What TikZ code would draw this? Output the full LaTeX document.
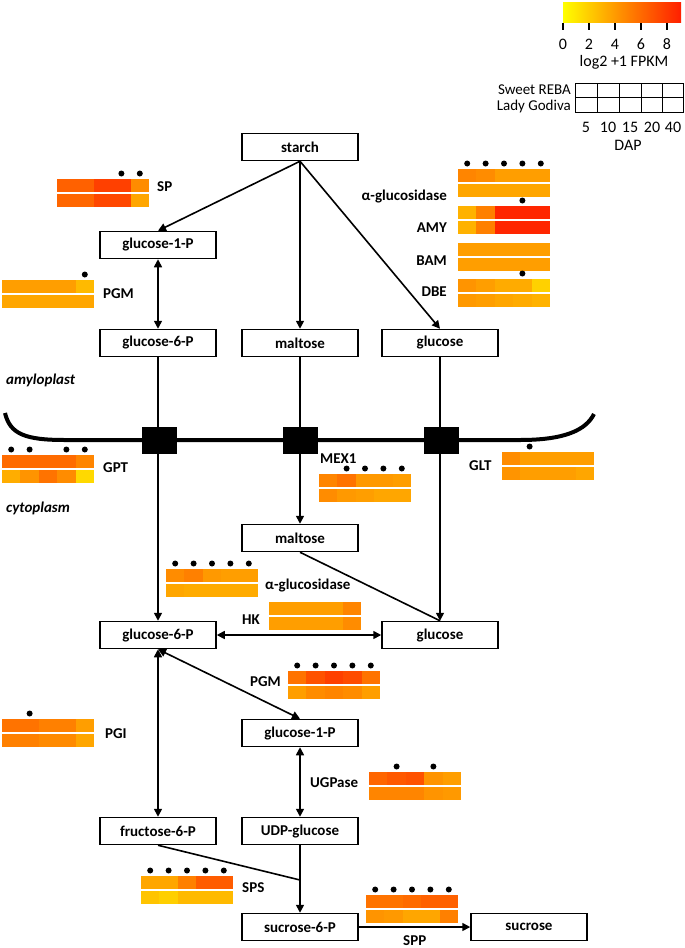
\documentclass[tikz,border=0pt]{standalone}
\usepackage{fontspec}
\setmainfont{Carlito}
\usetikzlibrary{arrows.meta}
\newcommand{\hm}[5]{%
  \foreach \v [count=\i from 0] in {#3}
    \fill[fill=red!\v!yellow] ({#1+\i*18.4},{#2}) rectangle ({#1+\i*18.4+18.7},{#2+13});
  \foreach \v [count=\i from 0] in {#4}
    \fill[fill=red!\v!yellow] ({#1+\i*18.4},{#2+15}) rectangle ({#1+\i*18.4+18.7},{#2+28});
  \foreach \dd in {#5} {\ifx\dd\empty\else\fill ({#1+(\dd-0.5)*18.4},{#2-5.5}) circle (3pt);\fi}
}
\begin{document}
\begin{tikzpicture}[x=1pt,y=-1pt,
  bx/.style={draw, line width=1.5pt, minimum width=116pt, minimum height=27pt, inner sep=0pt,
     font=\bfseries\fontsize{15}{17}\selectfont},
  lab/.style={inner sep=0pt, font=\bfseries\fontsize{15}{17}\selectfont},
  cmp/.style={inner sep=0pt, font=\bfseries\itshape\fontsize{15}{17}\selectfont},
  leg/.style={inner sep=0pt, font=\fontsize{16}{18}\selectfont},
  rowlab/.style={inner sep=0pt, anchor=east, font=\fontsize{15}{17}\selectfont},
  arr/.style={line width=1.6pt, -{Triangle[length=8pt,width=8pt]}},
  darr/.style={line width=1.6pt, {Triangle[length=8pt,width=8pt]}-{Triangle[length=8pt,width=8pt]}},
  ln/.style={line width=1.6pt},
  tsq/.style={fill=black, minimum width=35pt, minimum height=27pt, inner sep=0pt}]
\useasboundingbox (0,0) rectangle (685,948);

% ---- legend
\shade[left color=yellow, right color=red!88!yellow, middle color=red!45!yellow] (563,2) rectangle (681,22);
\foreach \t/\xx in {0/563,2/589,4/615,6/641,8/667} {
  \draw[line width=1.2pt] (\xx,23) -- (\xx,30);
  \node[leg] (n\t) at (\xx,44) {\t};
}
\node[leg] (unit) at (624,62) {log2 +1 FPKM};
\draw[line width=1pt] (575,83) rectangle (683,112);
\draw[line width=1pt] (575,97.5) -- (683,97.5);
\foreach \xx in {597,619,641,662} \draw[line width=1pt] (\xx,83) -- (\xx,112);
\node[rowlab] (sweet) at (571,89.5) {Sweet REBA};
\node[rowlab] (lady) at (571,106) {Lady Godiva};
\foreach \c/\xx in {5/586,10/608,15/630,20/652,40/673}
  \node[leg] (d\c) at (\xx,127) {\c};
\node[leg] (dap) at (628,145) {DAP};

% ---- membrane
\draw[line width=4pt] (5,413) .. controls (10,434) and (25,440) .. (65,440) -- (520,440)
   .. controls (565,440) and (586,430) .. (594,414);

% ---- boxes
\node[bx] (starch) at (300,147) {starch};
\node[bx] (g1pA) at (158,245) {glucose-1-P};
\node[bx] (g6pA) at (158,343) {glucose-6-P};
\node[bx] (maltA) at (300,343) {maltose};
\node[bx] (glcA) at (440,343) {glucose};
\node[bx] (maltB) at (300,538) {maltose};
\node[bx] (g6pB) at (158,635) {glucose-6-P};
\node[bx] (glcB) at (440,635) {glucose};
\node[bx] (g1pB) at (300,733) {glucose-1-P};
\node[bx] (f6p) at (158,831) {fructose-6-P};
\node[bx] (udpg) at (300,831) {UDP-glucose};
\node[bx] (s6p) at (300,927) {sucrose-6-P};
\node[bx] (suc) at (529,927) {sucrose};

% ---- connectors
\draw[arr] (starch.south) -- (g1pA.north);
\draw[arr] (starch.south) -- (maltA.north);
\draw[arr] (starch.south) -- (glcA.north);
\draw[darr] (g1pA) -- (g6pA);
\draw[arr] (g6pA) -- (g6pB);
\draw[arr] (maltA) -- (maltB);
\draw[arr] (glcA) -- (glcB);
\draw[ln] (maltB.south) -- (glcB.north);
\draw[darr] (g6pB) -- (glcB);
\draw[darr] (g6pB.south) -- (g1pB.north);
\draw[darr] (g6pB) -- (f6p);
\draw[darr] (g1pB) -- (udpg);
\draw[arr] (udpg) -- (s6p);
\coordinate (jn) at (300,880);
\draw[ln] (f6p.south) -- (jn);
\draw[arr] (s6p) -- (suc);

% ---- transporters
\node[tsq] (t1) at (159,440) {};
\node[tsq] (t2) at (300,440) {};
\node[tsq] (t3) at (441,440) {};

% ---- compartments
\node[cmp, anchor=west] (amy) at (6,380) {amyloplast};
\node[cmp, anchor=west] (cyto) at (6,508) {cytoplasm};

% ---- heatmaps
\hm{57}{179}{62,62,75,75,45}{60,60,72,72,35}{4,5}
\hm{2}{280}{38,38,38,38,27}{35,35,35,35,35}{5}
\hm{458}{169}{48,45,38,38,38}{35,35,35,35,35}{1,2,3,4,5}
\hm{458}{206}{30,50,85,85,85}{30,50,85,85,85}{4}
\hm{458}{243}{38,38,38,38,38}{38,38,38,38,38}{}
\hm{458}{279}{42,38,33,33,18}{40,38,35,33,30}{4}
\hm{2}{455}{58,58,58,58,48}{32,42,55,45,15}{1,2,4,5}
\hm{319}{474}{48,55,40,40,38}{45,40,38,35,35}{2,3,4,5}
\hm{502}{452}{45,38,38,38,38}{42,38,38,38,35}{2}
\hm{166}{569}{45,50,40,38,38}{35,33,33,33,33}{1,2,3,4,5}
\hm{269}{602}{38,38,38,38,48}{38,38,38,38,45}{}
\hm{288}{671}{55,68,75,70,55}{38,45,48,45,38}{1,2,3,4,5}
\hm{369}{772}{60,65,68,42,38}{48,48,48,42,40}{2,4}
\hm{2}{719}{55,55,50,50,38}{50,50,46,46,35}{2}
\hm{141}{876}{35,35,50,64,64}{23,19,27,27,27}{1,2,3,4,5}
\hm{366}{895}{55,55,58,62,62}{42,40,35,35,50}{1,2,3,4,5}

% ---- enzyme labels
\node[lab, anchor=west] (lSP) at (157,187) {SP};
\node[lab, anchor=west] (lPGM1) at (103,294) {PGM};
\node[lab, anchor=east] (lAG1) at (447,197) {α-glucosidase};
\node[lab, anchor=east] (lAMY) at (447,228) {AMY};
\node[lab, anchor=east] (lBAM) at (447,261) {BAM};
\node[lab, anchor=east] (lDBE) at (447,292) {DBE};
\node[lab, anchor=west] (lGPT) at (103,468) {GPT};
\node[lab, anchor=west] (lMEX) at (320,459) {MEX1};
\node[lab, anchor=west] (lGLT) at (469,466) {GLT};
\node[lab, anchor=west] (lAG2) at (265,585) {α-glucosidase};
\node[lab, anchor=west] (lHK) at (242,620) {HK};
\node[lab, anchor=west] (lPGM2) at (250,682) {PGM};
\node[lab, anchor=west] (lPGI) at (105,734) {PGI};
\node[lab, anchor=west] (lUGP) at (310,783) {UGPase};
\node[lab, anchor=west] (lSPS) at (242,888) {SPS};
\node[lab, anchor=west] (lSPP) at (403,941) {SPP};
\end{tikzpicture}
\end{document}
